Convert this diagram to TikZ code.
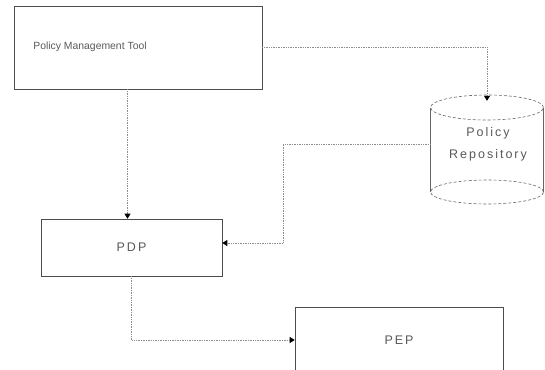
\documentclass[tikz,border=0pt]{standalone}
\usepackage{fontspec}
\setmainfont{Liberation Sans}
\usetikzlibrary{arrows.meta}
\begin{document}
\begin{tikzpicture}[x=1pt,y=-1pt,
  box/.style={draw=black!70, line width=0.6pt, minimum width=#1, inner sep=0pt},
  lbl/.style={text=black!65, inner sep=0pt},
  smalltxt/.style={lbl, font=\fontsize{10.4}{12}\selectfont},
  bigtxt/.style={lbl, font=\fontsize{12.5}{22}\selectfont\addfontfeatures{LetterSpace=16}},
  conn/.style={draw=black!45, densely dotted, line width=0.7pt,
    -{Triangle[length=5pt,width=6pt,fill=black,color=black]}}]
\useasboundingbox (0,0) rectangle (545,369);
\clip (0,0) rectangle (545,369);
% boxes
\node[box=248pt, minimum height=83pt] (pmt) at (138,47.5) {};
\node[smalltxt] (pmtlabel) at (90,47) {Policy Management Tool};
\node[box=181pt, minimum height=57pt, bigtxt, draw=black!70] (pdp) at (131.5,247.5) {PDP};
\node[box=208pt, minimum height=66pt, bigtxt, draw=black!70] (pep) at (399,340) {PEP};
% repository cylinder
\node[minimum width=113pt, minimum height=110pt, inner sep=0pt] (repo) at (487,150) {};
\draw[draw=black!60, line width=0.6pt, densely dashed]
  (487,107.5) ellipse [x radius=56.5pt, y radius=12.5pt];
\draw[draw=black!60, line width=0.6pt, densely dashed]
  (487,192) ellipse [x radius=56.5pt, y radius=12pt];
\draw[draw=black!60, line width=0.6pt] (430.5,107.5) -- (430.5,192);
\draw[draw=black!60, line width=0.6pt] (543.5,107.5) -- (543.5,192);
\node[bigtxt, align=center] (repolabel) at (488,144) {Policy\\Repository};
% connectors
\draw[conn] (pmt.east) -| ([yshift=-6pt]repo.north);
\draw[conn] ([xshift=-4pt]pmt.south -| pdp.north) -- ([xshift=-4pt]pdp.north);
\draw[conn] ([yshift=6pt]repo.west) -- ++(-147,0) |- ([yshift=4.5pt]pdp.east);
\draw[conn] (pdp.south) |- (pep.west);
\end{tikzpicture}
\end{document}
